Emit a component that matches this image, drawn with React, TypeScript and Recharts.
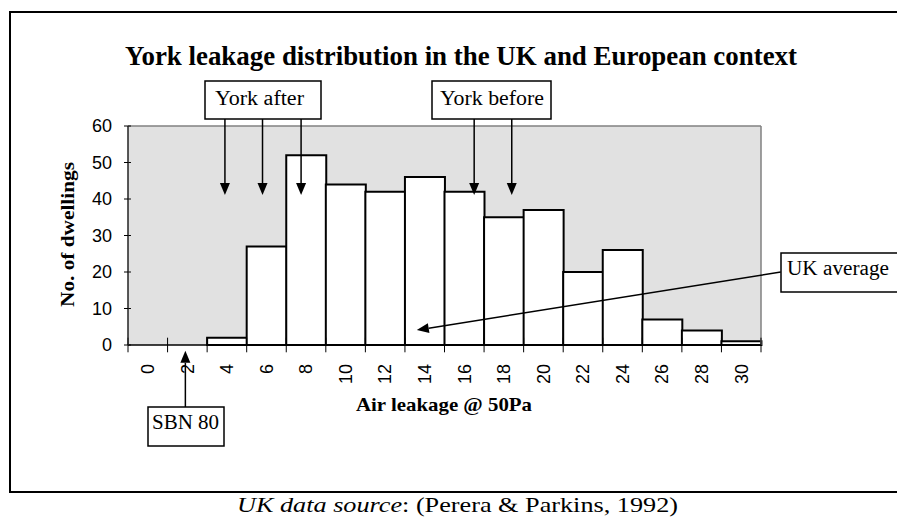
import React from 'react';
import { Bar, BarChart, CartesianGrid, ReferenceLine, XAxis, YAxis } from 'recharts';

// histogram: air leakage class (m3/h.m2 @ 50Pa) vs number of dwellings
const airLeakage = [0, 2, 4, 6, 8, 10, 12, 14, 16, 18, 20, 22, 24, 26, 28, 30];
const dwellings = [0, 0, 2, 27, 52, 44, 42, 46, 42, 35, 37, 20, 26, 7, 4, 1];
const yTicks = [0, 10, 20, 30, 40, 50, 60];

// where the annotation arrows point, in axis units
const yorkAfter = [3.9, 5.8, 7.75];
const yorkBefore = [16.5, 18.4];
const sbn80 = 1.9;
const ukAverage = { from: { x: 32, y: 20 }, to: { x: 13.6, y: 4.1 } };

const data = airLeakage.map((x, i) => ({ x, label: String(x), count: dwellings[i] }));
const boundaries = [...airLeakage.map((x) => x - 1), 31];

const SERIF = '"Liberation Serif", "Times New Roman", serif';
const SANS = '"Liberation Sans", Arial, sans-serif';

function Arrow(props: any) {
  const { x1, y1, x2, y2 } = props;
  const dx = x2 - x1;
  const dy = y2 - y1;
  const len = Math.hypot(dx, dy) || 1;
  const ux = dx / len;
  const uy = dy / len;
  const head = 12;
  const half = 5;
  const bx = x2 - ux * head;
  const by = y2 - uy * head;
  const px = -uy;
  const py = ux;
  return (
    <g>
      <line x1={x1} y1={y1} x2={bx} y2={by} stroke="#000" strokeWidth={1.5} />
      <polygon
        points={`${x2},${y2} ${bx + px * half},${by + py * half} ${bx - px * half},${by - py * half}`}
        fill="#000"
      />
    </g>
  );
}

function XTick({ x, y, payload }: any) {
  return (
    <text
      transform={`translate(${x},${y + 11}) rotate(-90)`}
      textAnchor="end"
      dy="0.35em"
      fontSize={18}
      fontFamily={SANS}
      fill="#000"
    >
      {payload.value}
    </text>
  );
}

function Label({ x, y, w, h, text, tx, tw, base }: any) {
  return (
    <g>
      <rect x={x} y={y} width={w} height={h} fill="#fff" stroke="#000" strokeWidth={1.5} />
      <text x={tx} y={base} fontFamily={SERIF} fontSize={20} textLength={tw} lengthAdjust="spacingAndGlyphs">
        {text}
      </text>
    </g>
  );
}

export default function App() {
  return (
    <div style={{ position: 'absolute', left: 0, top: 0, width: 897, height: 517, background: '#fff', overflow: 'hidden' }}>
      {/* outer chart frame, open on the right where the picture is cropped */}
      <div
        style={{
          position: 'absolute',
          left: 9,
          top: 11,
          width: 900,
          height: 478,
          borderLeft: '2px solid #000',
          borderTop: '2px solid #000',
          borderBottom: '2px solid #000',
        }}
      />
      <div style={{ position: 'absolute', left: 0, top: 0 }}>
        <BarChart
          width={897}
          height={517}
          data={data}
          barCategoryGap={0}
          margin={{ top: 126, right: 136, bottom: 142, left: 78 }}
        >
          <CartesianGrid horizontal={false} vertical={false} fill="#e1e1e1" fillOpacity={1} />
          <XAxis
            dataKey="label"
            interval={0}
            height={30}
            tick={<XTick />}
            tickLine={false}
            axisLine={{ stroke: '#000', strokeWidth: 1.5 }}
          />
          <XAxis xAxisId="num" type="number" dataKey="x" domain={[-1, 31]} allowDataOverflow hide />
          <YAxis
            domain={[0, 60]}
            ticks={yTicks}
            width={50}
            tickSize={4}
            tickMargin={12}
            tick={{ fontSize: 18, fontFamily: SANS, fill: '#000' }}
            tickLine={{ stroke: '#000' }}
            axisLine={{ stroke: '#222', strokeWidth: 1.5 }}
          />
          <ReferenceLine y={60} stroke="#808080" strokeWidth={1.5} ifOverflow="visible" />
          <ReferenceLine x={31} xAxisId="num" stroke="#808080" strokeWidth={1.5} ifOverflow="visible" />
          <Bar dataKey="count" fill="#fff" stroke="#000" strokeWidth={2} isAnimationActive={false} />
          {boundaries.map((b) => (
            <ReferenceLine
              key={`t${b}`}
              xAxisId="num"
              segment={[{ x: b, y: 2 }, { x: b, y: -2 }]}
              stroke="#000"
              strokeWidth={1}
              ifOverflow="visible"
            />
          ))}
          {yTicks.map((t) => (
            <ReferenceLine
              key={`y${t}`}
              xAxisId="num"
              segment={[{ x: -1, y: t }, { x: -0.85, y: t }]}
              stroke="#000"
              strokeWidth={1}
              ifOverflow="visible"
            />
          ))}
          {[...yorkAfter, ...yorkBefore].map((v) => (
            <ReferenceLine
              key={`a${v}`}
              xAxisId="num"
              segment={[{ x: v, y: 61.9 }, { x: v, y: 41.1 }]}
              shape={Arrow}
              ifOverflow="visible"
            />
          ))}
          <ReferenceLine
            xAxisId="num"
            segment={[{ x: sbn80, y: -17 }, { x: sbn80, y: -1.6 }]}
            shape={Arrow}
            ifOverflow="visible"
          />
          <ReferenceLine
            xAxisId="num"
            segment={[ukAverage.from, ukAverage.to]}
            shape={Arrow}
            ifOverflow="visible"
          />
        </BarChart>
      </div>

      <svg width={897} height={517} style={{ position: 'absolute', left: 0, top: 0, pointerEvents: 'none' }}>
        <text x={125} y={65} fontFamily={SERIF} fontWeight="bold" fontSize={27} textLength={672} lengthAdjust="spacingAndGlyphs">
          York leakage distribution in the UK and European context
        </text>
        <text x={356} y={411} fontFamily={SERIF} fontWeight="bold" fontSize={19} textLength={176} lengthAdjust="spacingAndGlyphs">
          Air leakage @ 50Pa
        </text>
        <text
          transform="translate(74,307) rotate(-90)"
          fontFamily={SERIF}
          fontWeight="bold"
          fontSize={19}
          textLength={145}
          lengthAdjust="spacingAndGlyphs"
        >
          No. of dwellings
        </text>
        <text x={237} y={512} fontFamily={SERIF} fontSize={22} textLength={441} lengthAdjust="spacingAndGlyphs">
          <tspan fontStyle="italic">UK data source</tspan>: (Perera &amp; Parkins, 1992)
        </text>

        <Label x={205} y={81} w={116} h={38} text="York after" tx={215} tw={89} base={105} />
        <Label x={432} y={81} w={119} h={38} text="York before" tx={440} tw={104} base={105} />
        <Label x={148} y={407} w={76} h={39} text="SBN 80" tx={152} tw={67} base={429} />
        <Label x={781} y={253} w={120} h={39} text="UK average" tx={787} tw={102} base={275} />
      </svg>
    </div>
  );
}
